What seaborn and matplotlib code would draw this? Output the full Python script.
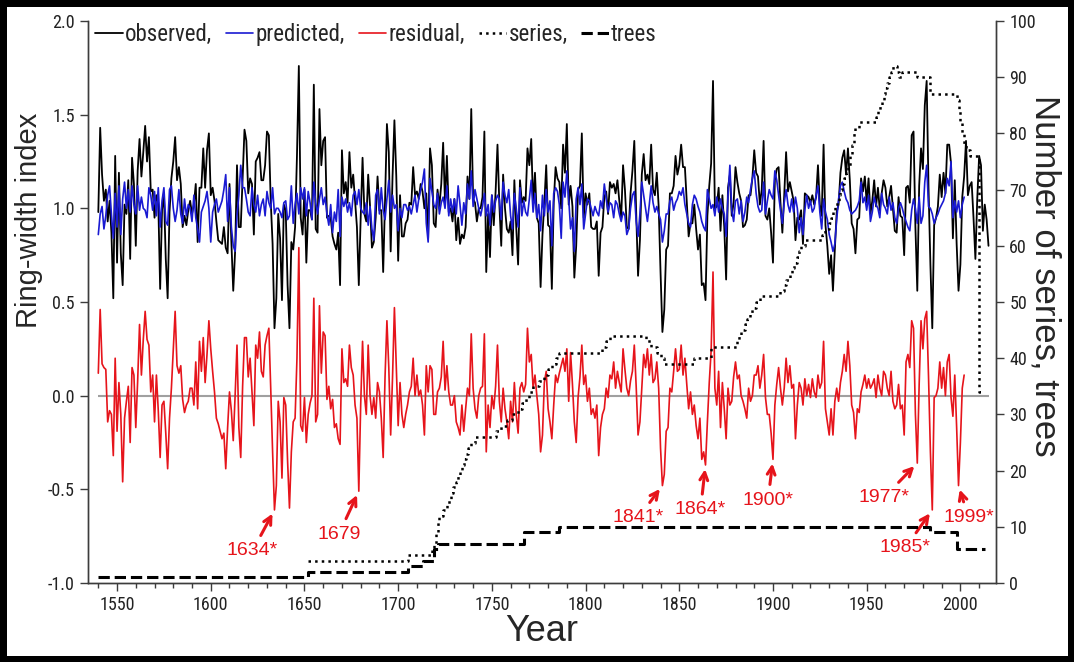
import numpy as np
import pandas as pd
import matplotlib
matplotlib.use('Agg')
import matplotlib.pyplot as plt
from matplotlib import font_manager
import seaborn as sns

sns.set_style('ticks')
plt.rcParams['font.family'] = ['Liberation Sans', 'DejaVu Sans']

# ---------------------------------------------------------------------------
# Data
# ---------------------------------------------------------------------------
first_year = 1540

# predicted ring-width index, 1540-2002
predicted = [
    0.86, 0.97, 1.01, 0.89, 0.96, 1.07, 1.12, 0.97, 0.84, 1.08,
    0.90, 1.12, 0.86, 1.05, 1.14, 1.00, 1.10, 0.98, 1.12, 1.02,
    0.97, 1.12, 0.99, 1.06, 1.00, 0.99, 0.95, 1.11, 1.07, 0.99,
    1.09, 0.96, 1.11, 0.90, 1.04, 1.11, 0.93, 0.91, 1.10, 1.12,
    1.00, 0.93, 0.99, 1.10, 0.97, 0.92, 1.05, 0.96, 1.02, 1.00,
    0.93, 1.07, 0.95, 0.89, 0.82, 0.98, 1.01, 1.04, 1.09, 1.00,
    0.82, 0.98, 1.02, 1.05, 0.98, 1.01, 1.04, 1.10, 1.18, 0.93,
    1.11, 0.90, 0.80, 0.77, 0.96, 1.07, 1.23, 1.11, 1.11, 1.05,
    0.98, 0.96, 1.11, 1.02, 0.98, 1.07, 0.96, 1.02, 1.05, 0.96,
    1.09, 1.03, 1.00, 1.11, 0.97, 1.00, 1.00, 0.98, 0.95, 1.03,
    1.04, 0.94, 0.96, 1.12, 0.92, 1.02, 1.08, 0.97, 1.11, 1.05,
    1.11, 0.96, 1.09, 1.03, 0.94, 1.14, 1.03, 0.97, 1.05, 1.11,
    1.02, 1.06, 0.97, 0.91, 1.02, 0.87, 0.98, 0.93, 1.10, 0.85,
    1.06, 1.01, 1.05, 0.98, 1.03, 0.96, 1.07, 1.09, 1.02, 1.10,
    1.00, 0.98, 0.97, 1.03, 0.91, 1.01, 0.89, 0.83, 1.07, 1.10,
    0.97, 1.11, 0.99, 0.94, 1.05, 1.15, 0.98, 1.07, 1.00, 1.02,
    0.88, 1.00, 0.95, 1.02, 1.02, 0.99, 1.01, 0.97, 1.02, 1.07,
    0.98, 1.05, 1.10, 1.14, 1.21, 0.92, 0.82, 1.16, 1.09, 1.02,
    1.00, 1.08, 0.97, 1.03, 1.06, 1.00, 1.12, 0.96, 1.05, 0.98,
    1.05, 0.97, 1.12, 1.02, 0.91, 1.03, 0.97, 1.13, 1.05, 1.20,
    1.01, 1.10, 1.05, 1.00, 0.96, 1.01, 1.08, 0.96, 1.02, 0.91,
    1.07, 0.98, 1.04, 1.07, 1.05, 0.94, 1.14, 1.07, 1.03, 1.10,
    0.96, 0.89, 1.08, 1.00, 0.90, 1.11, 0.96, 1.04, 0.98, 0.96,
    1.05, 1.15, 0.98, 1.08, 0.95, 1.02, 0.88, 1.07, 0.96, 1.10,
    0.98, 1.04, 0.80, 1.08, 1.11, 1.09, 1.02, 0.84, 1.14, 1.06,
    1.20, 1.05, 0.89, 0.95, 0.77, 1.05, 1.11, 1.02, 1.13, 0.89,
    0.97, 1.05, 1.04, 1.00, 0.96, 1.01, 0.98, 0.96, 1.04, 1.00,
    1.13, 1.05, 0.98, 1.03, 1.02, 0.95, 1.04, 1.02, 0.97, 0.93,
    0.98, 0.96, 0.86, 0.89, 1.00, 1.07, 1.09, 0.93, 0.85, 0.97,
    1.14, 1.07, 1.00, 0.93, 1.02, 1.12, 1.03, 0.98, 1.01, 0.97,
    0.94, 0.82, 0.88, 0.97, 0.97, 1.04, 1.06, 0.99, 1.03, 1.05,
    1.09, 1.07, 1.11, 1.02, 0.97, 0.92, 0.90, 1.02, 1.07, 1.05,
    1.01, 0.98, 0.93, 0.90, 0.88, 1.10, 1.05, 1.00, 1.02, 0.96,
    1.06, 0.98, 1.05, 1.00, 0.97, 0.85, 1.07, 1.23, 0.99, 0.93,
    1.04, 1.05, 0.97, 1.04, 0.93, 0.98, 1.06, 1.03, 1.10, 1.16,
    1.20, 1.08, 1.01, 0.98, 0.99, 1.14, 0.97, 1.04, 1.10, 1.07,
    1.05, 1.20, 1.15, 1.07, 0.99, 0.92, 1.03, 1.10, 1.02, 0.98,
    1.05, 0.98, 1.06, 1.00, 0.87, 0.95, 0.86, 0.99, 1.07, 1.00,
    1.04, 0.98, 1.00, 1.07, 1.12, 0.98, 0.89, 1.05, 0.98, 0.94,
    0.86, 0.82, 0.77, 0.81, 0.94, 1.05, 1.12, 1.14, 1.09, 1.05,
    1.03, 0.99, 0.97, 0.98, 0.99, 1.01, 1.04, 1.14, 1.03, 1.06,
    0.99, 1.07, 0.93, 0.98, 1.06, 1.02, 1.00, 0.95, 1.08, 1.02,
    1.00, 0.97, 1.06, 0.99, 1.03, 0.95, 0.92, 1.00, 1.03, 1.00,
    0.96, 0.93, 0.90, 0.88, 0.99, 1.05, 1.00, 0.92, 1.06, 0.92,
    0.96, 1.14, 1.23, 1.01, 1.00, 0.97, 0.92, 0.95, 0.97, 1.00,
    1.02, 1.04, 1.08, 1.16, 1.12, 1.25, 0.95, 1.04, 0.98, 1.04,
    0.95, 1.02, 1.06,
]

# residual (observed - predicted), 1540-2002
residual = [
    0.12, 0.46, 0.17, 0.15, 0.14, -0.14, -0.08, -0.10, -0.32, 0.20,
    -0.19, 0.07, -0.10, -0.46, -0.12, -0.03, 0.05, -0.25, 0.15, 0.11,
    -0.17, 0.08, 0.38, 0.11, 0.30, 0.45, 0.30, 0.27, 0.02, 0.11,
    -0.14, 0.11, -0.08, -0.33, -0.05, -0.03, -0.20, -0.39, -0.12, 0.04,
    0.25, 0.45, 0.16, 0.12, 0.16, -0.02, -0.09, -0.05, -0.03, 0.04,
    0.04, -0.05, 0.18, -0.07, 0.29, 0.13, 0.31, 0.07, 0.22, 0.40,
    0.25, 0.13, 0.02, -0.12, -0.15, -0.19, -0.23, -0.20, -0.39, -0.17,
    0.02, -0.08, -0.24, 0.00, 0.27, -0.17, -0.33, 0.05, 0.31, 0.31,
    0.10, 0.20, 0.02, -0.16, 0.27, 0.20, 0.34, 0.13, 0.10, 0.27,
    0.32, 0.36, 0.04, -0.30, -0.61, -0.48, -0.03, -0.14, -0.44, -0.01,
    -0.05, -0.35, -0.60, -0.30, -0.14, -0.12, 0.20, 0.79, -0.16, -0.19,
    -0.01, -0.25, -0.10, -0.04, 0.00, 0.52, -0.14, -0.10, 0.48, 0.12,
    0.34, 0.32, -0.02, 0.05, -0.07, -0.02, -0.17, -0.15, -0.23, -0.26,
    0.25, 0.07, 0.09, 0.05, 0.27, 0.15, 0.11, -0.05, -0.12, -0.51,
    -0.05, 0.29, 0.00, -0.10, 0.27, 0.00, -0.10, -0.01, -0.12, 0.07,
    0.02, -0.12, -0.33, 0.10, 0.40, 0.15, -0.21, 0.10, 0.47, 0.15,
    -0.16, 0.07, -0.10, -0.17, -0.10, -0.05, 0.02, 0.05, 0.20, 0.00,
    0.11, 0.00, 0.03, -0.05, -0.21, 0.16, 0.02, 0.16, 0.14, -0.10,
    -0.10, 0.02, 0.04, 0.10, 0.29, 0.03, 0.16, 0.02, -0.05, -0.05,
    0.00, -0.14, -0.17, -0.21, -0.05, -0.19, -0.07, 0.04, 0.00, 0.33,
    0.04, -0.07, -0.12, 0.00, 0.04, 0.05, 0.33, -0.30, -0.05, -0.17,
    0.00, -0.07, 0.05, 0.27, -0.03, -0.14, 0.04, -0.07, -0.14, -0.23,
    -0.03, -0.14, 0.07, -0.10, -0.20, 0.04, 0.07, 0.02, 0.06, 0.36,
    0.18, 0.22, 0.04, 0.11, 0.00, -0.10, -0.30, -0.21, 0.07, 0.13,
    -0.07, -0.14, -0.23, -0.05, 0.11, 0.07, 0.12, 0.16, 0.20, 0.13,
    0.25, -0.03, 0.23, 0.06, -0.14, -0.25, -0.01, 0.10, 0.27, 0.06,
    0.11, -0.03, 0.04, -0.10, -0.07, -0.12, -0.05, -0.32, -0.17, -0.10,
    -0.07, 0.04, -0.01, 0.11, 0.09, 0.18, 0.04, 0.13, 0.07, 0.02,
    0.25, 0.14, 0.04, 0.00, 0.08, 0.13, 0.27, 0.05, -0.21, -0.14,
    0.04, 0.22, 0.15, 0.25, 0.11, 0.22, 0.07, 0.09, 0.18, 0.04,
    -0.28, -0.48, -0.42, -0.19, -0.17, 0.04, 0.02, 0.13, 0.25, 0.13,
    0.14, 0.27, 0.11, 0.20, 0.06, -0.07, 0.02, -0.10, -0.05, -0.16,
    -0.23, -0.12, -0.34, -0.30, -0.37, -0.14, 0.07, 0.24, 0.66, 0.04,
    -0.05, 0.13, -0.17, 0.07, -0.07, -0.23, 0.04, -0.05, -0.03, 0.10,
    0.18, 0.09, 0.11, 0.00, -0.03, -0.07, -0.12, 0.04, -0.03, 0.00,
    0.11, 0.11, 0.16, 0.04, 0.11, 0.22, -0.01, -0.10, -0.10, -0.20,
    -0.34, -0.05, 0.06, 0.15, 0.04, -0.05, 0.04, 0.20, 0.07, 0.16,
    0.04, 0.06, -0.23, -0.05, 0.07, 0.04, -0.05, 0.09, 0.00, 0.06,
    -0.01, 0.09, 0.02, -0.01, 0.11, 0.04, 0.07, 0.29, -0.07, -0.14,
    -0.21, -0.07, -0.21, -0.03, 0.04, -0.03, 0.07, 0.13, 0.22, 0.13,
    0.29, 0.16, -0.05, -0.09, -0.23, -0.07, -0.09, 0.02, 0.06, 0.11,
    0.04, 0.09, 0.04, 0.06, 0.09, -0.01, 0.11, 0.04, 0.00, 0.13,
    0.11, 0.04, 0.00, 0.13, -0.03, -0.07, -0.05, 0.06, -0.07, -0.05,
    -0.21, 0.18, 0.22, 0.15, 0.40, 0.36, -0.10, -0.36, 0.06, 0.40,
    0.25, 0.41, 0.45, 0.10, -0.30, -0.61, -0.01, 0.00, 0.04, 0.18,
    0.04, 0.15, 0.00, 0.18, 0.22, -0.01, -0.11, 0.11, -0.17, -0.48,
    -0.25, 0.04, 0.11,
]

# observed ring-width index, 1540-2015
observed = [
    0.98, 1.43, 1.18, 1.04, 1.10, 0.93, 1.04, 0.87, 0.52, 1.28,
    0.71, 1.19, 0.76, 0.59, 1.02, 0.97, 1.15, 0.73, 1.27, 1.13,
    0.80, 1.20, 1.37, 1.17, 1.30, 1.44, 1.25, 1.38, 1.09, 1.10,
    0.95, 1.07, 1.03, 0.57, 0.99, 1.08, 0.73, 0.52, 0.98, 1.16,
    1.25, 1.38, 1.15, 1.22, 1.13, 0.90, 0.96, 0.91, 0.99, 1.04,
    0.97, 1.02, 1.13, 0.82, 1.11, 1.11, 1.32, 1.11, 1.31, 1.40,
    1.07, 1.11, 1.04, 0.93, 0.83, 0.82, 0.81, 0.90, 0.79, 0.76,
    1.13, 0.82, 0.56, 0.77, 1.23, 0.90, 0.90, 1.16, 1.42, 1.36,
    1.08, 1.16, 1.13, 0.86, 1.25, 1.27, 1.30, 1.15, 1.15, 1.23,
    1.41, 1.39, 1.04, 0.81, 0.36, 0.52, 0.97, 0.84, 0.51, 1.02,
    0.99, 0.59, 0.36, 0.82, 0.78, 0.90, 1.28, 1.76, 0.95, 0.86,
    1.10, 0.71, 0.99, 0.99, 0.94, 1.66, 0.89, 0.87, 1.53, 1.23,
    1.36, 1.38, 0.95, 0.96, 0.95, 0.85, 0.81, 0.78, 0.87, 0.59,
    1.31, 1.08, 1.14, 1.03, 1.30, 1.11, 1.18, 1.04, 0.90, 0.59,
    0.95, 1.27, 0.97, 0.93, 1.18, 1.01, 0.79, 0.82, 0.95, 1.17,
    0.99, 0.99, 0.66, 1.04, 1.45, 1.30, 0.77, 1.17, 1.47, 1.17,
    0.72, 1.07, 0.85, 0.85, 0.92, 0.94, 1.03, 1.02, 1.22, 1.07,
    1.09, 1.05, 1.13, 1.09, 1.00, 1.08, 0.84, 1.32, 1.23, 0.92,
    0.90, 1.10, 1.01, 1.13, 1.35, 1.03, 1.28, 0.98, 1.00, 0.93,
    1.05, 0.83, 0.95, 0.81, 0.86, 0.84, 0.90, 1.17, 1.05, 1.53,
    1.05, 1.03, 0.93, 1.00, 1.00, 1.06, 1.41, 0.66, 0.97, 0.74,
    1.07, 0.91, 1.09, 1.34, 1.02, 0.80, 1.18, 1.00, 0.89, 0.87,
    0.93, 0.75, 1.15, 0.90, 0.70, 1.15, 1.03, 1.06, 1.04, 1.32,
    1.23, 1.37, 1.02, 1.19, 0.95, 0.92, 0.58, 0.86, 1.03, 1.23,
    0.91, 0.90, 0.57, 1.03, 1.22, 1.16, 1.14, 1.00, 1.34, 1.19,
    1.45, 1.02, 1.12, 1.01, 0.63, 0.80, 1.10, 1.12, 1.40, 0.95,
    1.08, 1.02, 1.08, 0.90, 0.89, 0.89, 0.93, 0.64, 0.87, 0.90,
    1.06, 1.09, 0.97, 1.14, 1.11, 1.13, 1.08, 1.15, 1.04, 0.95,
    1.23, 1.10, 0.90, 0.89, 1.08, 1.20, 1.36, 0.98, 0.64, 0.83,
    1.18, 1.29, 1.15, 1.18, 1.13, 1.34, 1.10, 1.07, 1.19, 1.01,
    0.66, 0.34, 0.46, 0.78, 0.80, 1.08, 1.08, 1.12, 1.28, 1.18,
    1.23, 1.34, 1.22, 1.22, 1.03, 0.85, 0.92, 0.92, 1.02, 0.89,
    0.78, 0.86, 0.59, 0.60, 0.51, 0.96, 1.12, 1.24, 1.68, 1.00,
    1.01, 1.11, 0.88, 1.07, 0.90, 0.62, 1.11, 1.18, 0.96, 1.03,
    1.22, 1.14, 1.08, 1.04, 0.90, 0.91, 0.94, 1.07, 1.07, 1.16,
    1.31, 1.19, 1.17, 1.02, 1.10, 1.36, 0.96, 0.94, 1.00, 0.87,
    0.71, 1.15, 1.21, 1.22, 1.03, 0.87, 1.07, 1.30, 1.09, 1.14,
    1.09, 1.04, 0.83, 0.95, 0.94, 0.99, 0.81, 1.08, 1.07, 1.06,
    1.03, 1.07, 1.02, 1.06, 1.23, 1.02, 0.96, 1.34, 0.91, 0.80,
    0.65, 0.75, 0.56, 0.78, 0.98, 1.02, 1.19, 1.27, 1.31, 1.18,
    1.32, 1.15, 0.92, 0.89, 0.76, 0.94, 0.95, 1.16, 1.09, 1.17,
    1.03, 1.16, 0.97, 1.04, 1.15, 1.01, 1.11, 0.99, 1.08, 1.15,
    1.11, 1.01, 1.06, 1.12, 1.00, 0.88, 0.87, 1.06, 0.96, 0.95,
    0.75, 1.11, 1.12, 1.03, 1.39, 1.41, 0.90, 0.56, 1.12, 1.32,
    1.21, 1.55, 1.68, 1.11, 0.70, 0.36, 0.91, 0.95, 1.01, 1.18,
    1.06, 1.19, 1.08, 1.34, 1.34, 1.24, 0.84, 1.15, 0.81, 0.56,
    0.70, 1.06, 1.17, 1.36, 1.07, 1.12, 1.14, 0.95, 0.73, 1.05,
    1.28, 1.23, 0.88, 1.02, 0.94, 0.80,
]

# number of series (sample depth), as (year of change, count)
series_years = [1652, 1705, 1718, 1719, 1720, 1721, 1722, 1724, 1726, 1727,
                1728, 1729, 1731, 1732, 1733, 1734, 1735, 1736, 1737, 1739,
                1741, 1752, 1755, 1758, 1761, 1764, 1766, 1768, 1770, 1772,
                1775, 1778, 1780, 1782, 1784, 1786, 1809, 1811, 1813, 1832,
                1835, 1838, 1840, 1842, 1858, 1867, 1881, 1882, 1883, 1885,
                1886, 1888, 1889, 1891, 1893, 1904, 1906, 1907, 1909, 1910,
                1911, 1913, 1914, 1915, 1917, 1926, 1928, 1930, 1931, 1932,
                1933, 1934, 1935, 1936, 1937, 1938, 1939, 1940, 1941, 1942,
                1943, 1944, 1946, 1955, 1956, 1957, 1958, 1959, 1960, 1961,
                1962, 1963, 1964, 1966, 1967, 1969, 1977, 1984, 1998, 1999,
                2000, 2001, 2002, 2003, 2005, 2010, 2012]
series_counts = [4, 5, 6, 7, 9, 11, 12, 13, 14, 15,
                 16, 17, 18, 19, 20, 21, 22, 23, 24, 25,
                 26, 27, 28, 29, 30, 31, 32, 33, 34, 35,
                 36, 37, 38, 39, 40, 41, 42, 43, 44, 43,
                 42, 41, 40, 39, 40, 42, 43, 44, 45, 46,
                 47, 48, 49, 50, 51, 52, 53, 54, 55, 56,
                 57, 58, 59, 60, 61, 62, 63, 64, 65, 66,
                 67, 68, 69, 70, 71, 72, 73, 74, 76, 78,
                 80, 81, 82, 83, 84, 85, 86, 87, 88, 89,
                 90, 91, 92, 91, 90, 91, 90, 87, 86, 84,
                 82, 80, 78, 77, 76, 34, 34]

# number of trees, as (year of change, count)
trees_years = [1540, 1652, 1705, 1713, 1719, 1721, 1767, 1786, 1984, 1998, 2013]
trees_counts = [1, 2, 3, 4, 6, 7, 9, 10, 9, 6, 6]

# highlighted residual years
ann_years = [1634, 1679, 1841, 1864, 1900, 1977, 1985, 1999]
ann_labels = ['1634*', '1679', '1841*', '1864*', '1900*', '1977*', '1985*', '1999*']

# ---------------------------------------------------------------------------
model_df = pd.DataFrame({'year': np.arange(first_year, first_year + len(predicted)),
                         'predicted': predicted, 'residual': residual})
obs_df = pd.DataFrame({'year': np.arange(first_year, first_year + len(observed)),
                       'observed': observed})
series_df = pd.DataFrame({'year': series_years, 'n': series_counts})
trees_df = pd.DataFrame({'year': trees_years, 'n': trees_counts})

RED = '#e6141b'
BLUE = '#1a1ad2'
AXC = '#3c3c3c'

# narrow face for ticks / legend if one is installed
names = {f.name for f in font_manager.fontManager.ttflist}
narrow = [n for n in ('Liberation Sans Narrow', 'Arial Narrow', 'Roboto Condensed',
                      'Open Sans Condensed') if n in names]
tick_family = narrow[:1] + ['Liberation Sans'] if narrow else ['Liberation Sans']

fig = plt.figure(figsize=(10.74, 6.62), dpi=100)
fig.patch.set_edgecolor('black')
fig.patch.set_linewidth(8)
ax = fig.add_axes([88 / 1074, 79 / 662, 908 / 1074, 562 / 662])
ax2 = ax.twinx()

ax.hlines(0, first_year, obs_df['year'].max(), color='#a0a0a0', lw=1.5, zorder=1)
sns.lineplot(data=obs_df, x='year', y='observed', ax=ax, color='black', lw=1.3,
             label='observed,', zorder=2)
sns.lineplot(data=model_df, x='year', y='predicted', ax=ax, color=BLUE, lw=1.2,
             label='predicted,', zorder=3)
sns.lineplot(data=model_df, x='year', y='residual', ax=ax, color=RED, lw=1.2,
             label='residual,', zorder=3)
sns.lineplot(data=series_df, x='year', y='n', ax=ax2, color='black', lw=1.8,
             linestyle=':', drawstyle='steps-post', label='series,')
sns.lineplot(data=trees_df, x='year', y='n', ax=ax2, color='black', lw=2.2,
             linestyle='--', drawstyle='steps-post', label='trees')
ax.get_legend().remove()
ax2.get_legend().remove()

# annotations: text offset (pixels) from the marked residual
ann_offsets = [(-22, -41), (-20, -43), (-24, -32), (-5, -45), (-5, -41),
               (-33, -34), (-27, -38), (10, -32)]
for yr, lab, (dx, dy) in zip(ann_years, ann_labels, ann_offsets):
    val = residual[yr - first_year]
    ax.annotate(lab, xy=(yr, val), xytext=(dx, dy), textcoords='offset pixels',
                ha='center', va='center', color=RED, fontsize=14,
                arrowprops=dict(arrowstyle='->', color=RED, lw=2.2,
                                shrinkA=3, shrinkB=3, mutation_scale=14))

# axes
ax.set_xlim(1534.5, 2019)
ax.set_ylim(-1.0, 2.0)
ax2.set_ylim(0, 100)
ax.set_xticks(range(1550, 2001, 50))
ax.set_xticks(range(1540, 2020, 10), minor=True)
ax.set_yticks(np.arange(-1.0, 2.01, 0.5))
ax.set_yticklabels([f'{v:.1f}' for v in np.arange(-1.0, 2.01, 0.5)])
ax2.set_yticks(range(0, 101, 10))

for a in (ax, ax2):
    a.spines['top'].set_visible(False)
    for s in a.spines.values():
        s.set_color(AXC)
        s.set_linewidth(1.0)
    a.tick_params(which='both', direction='out', color=AXC, width=1.0,
                  labelsize=13, labelcolor='#222222')
    a.tick_params(which='major', length=6)
    a.tick_params(which='minor', length=3.5)
    for lab in a.get_xticklabels() + a.get_yticklabels():
        lab.set_family(tick_family)

ax.set_xlabel('Year', fontsize=26)
ax.xaxis.set_label_coords(0.5, -0.056)
ax.set_ylabel('Ring-width index', fontsize=21)
ax.yaxis.set_label_coords(-0.05, 0.646)
ax2.set_ylabel('Number of series, trees', fontsize=25, rotation=270, va='bottom')
ax2.yaxis.set_label_coords(1.036, 0.546)

handles = ax.get_lines()[:3] + ax2.get_lines()[:2]
labels = ['observed,', 'predicted,', 'residual,', 'series,', 'trees']
leg = ax2.legend(handles, labels, loc='upper left', bbox_to_anchor=(0.008, 0.997),
                 ncol=5, frameon=False, handlelength=1.2, handletextpad=0.1,
                 columnspacing=0.6, borderaxespad=0, borderpad=0,
                 prop={'family': tick_family, 'size': 16.5})

fig.savefig('out.png', dpi=100)
